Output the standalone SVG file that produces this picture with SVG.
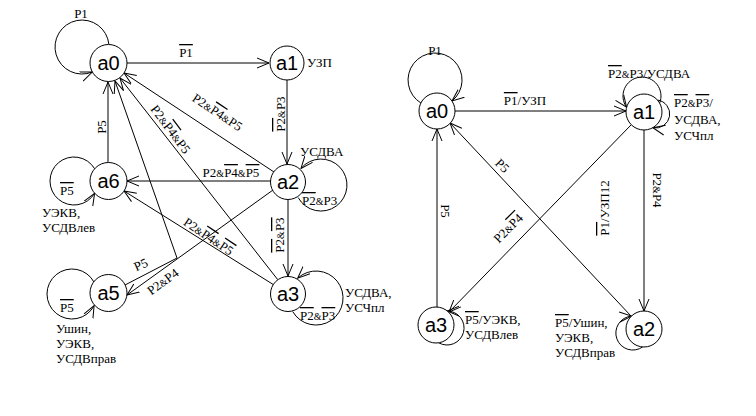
<svg xmlns="http://www.w3.org/2000/svg" width="756" height="416" viewBox="0 0 756 416">
<style>
.c{fill:none;stroke:#000;stroke-width:1;marker-end:url(#ah)}
.n circle{fill:#fff;stroke:#000;stroke-width:1}
.n text{font-family:"Liberation Sans","DejaVu Sans",sans-serif;font-size:20px;text-anchor:middle;fill:#000}
.t{font-family:"Liberation Serif","DejaVu Serif",serif;font-size:13px;fill:#000}
.m{text-anchor:middle}
.o{text-decoration:overline}
.a{font-size:10px}
</style>
<defs>
<marker id="ah" markerWidth="13" markerHeight="12" refX="12" refY="6" orient="auto" markerUnits="userSpaceOnUse">
<path d="M0,1 L12,6 L0,11" fill="none" stroke="#000" stroke-width="1"/>
</marker>
</defs>
<rect width="756" height="416" fill="#fff"/>
<g id="connectors">
<!-- left diagram -->
<path class="c" d="M108.9,44.4 A27,27 0 1 0 92.3,72"/>
<path class="c" d="M127,63 L269,63"/>
<path class="c" d="M287,80 L287,164"/>
<path class="c" d="M274,172 L124,73"/>
<path class="c" d="M271,181 L127,181"/>
<path class="c" d="M288,200 L288,276"/>
<path class="c" d="M298.2,197.6 A26,26 0 1 0 301,168.4"/>
<path class="c" d="M292.7,311.6 A27,27 0 1 0 297.7,278.2"/>
<path class="c" d="M278,280 L120,78"/>
<path class="c" d="M274,285 L124,191"/>
<path class="c" d="M108,162 L108,82"/>
<path class="c" d="M94.6,168.7 A24,24 0 1 0 94.6,193.3"/>
<path class="c" d="M94.1,282.3 A25,25 0 1 0 94.1,305.7"/>
<path class="c" d="M125,285 L177,258 L115,81"/>
<path class="c" d="M273,190 L127,295"/>
<!-- right diagram -->
<path class="c" d="M420.9,103 A27,27 0 1 1 452,101"/>
<path class="c" d="M455,111 L626,111"/>
<path class="c" d="M659.6,103.2 A19,19 0 1 0 626.6,107.2"/>
<path class="c" d="M657.5,100.1 A14,14 0 1 1 652.9,127.7"/>
<path class="c" d="M644,130 L644,311"/>
<path class="c" d="M631,125 L449,312"/>
<path class="c" d="M631,316 L450,123"/>
<path class="c" d="M437,307 L437,129"/>
<path class="c" d="M438.7,342.8 A17,17 0 1 0 447.3,311"/>
<path class="c" d="M642.7,346.9 A17,17 0 1 1 631.5,316.1"/>
</g>
<g id="labels">
<text class="t m" x="81" y="18">P1</text>
<text class="t m" x="186" y="57"><tspan class="o">P1</tspan></text>
<text class="t" x="307" y="67">УЗП</text>
<text class="t m" transform="translate(285,114) rotate(-90)"><tspan class="o">P2</tspan><tspan class="a">&amp;</tspan>P3</text>
<text class="t m" transform="translate(215,116) rotate(33.5)">P2<tspan class="a">&amp;</tspan><tspan class="o">P4</tspan><tspan class="a">&amp;</tspan>P5</text>
<text class="t m" x="231" y="177">P2<tspan class="a">&amp;</tspan><tspan class="o">P4</tspan><tspan class="a">&amp;</tspan><tspan class="o">P5</tspan></text>
<text class="t m" transform="translate(106,127) rotate(-90)">P5</text>
<text class="t m" transform="translate(167,132) rotate(53)">P2<tspan class="a">&amp;</tspan><tspan class="o">P4</tspan><tspan class="a">&amp;</tspan>P5</text>
<text class="t m" transform="translate(206,240) rotate(34)">P2<tspan class="a">&amp;</tspan><tspan class="o">P4</tspan><tspan class="a">&amp;</tspan><tspan class="o">P5</tspan></text>
<text class="t m" transform="translate(142.6,268.6) rotate(-24)">P5</text>
<text class="t m" transform="translate(165.4,285.2) rotate(-36)">P2<tspan class="a">&amp;</tspan>P4</text>
<text class="t m" transform="translate(284,235) rotate(-90)"><tspan class="o">P2</tspan><tspan class="a">&amp;</tspan><tspan class="o">P3</tspan></text>
<text class="t" x="300" y="156">УСДВА</text>
<text class="t" x="302" y="205"><tspan class="o">P2</tspan><tspan class="a">&amp;</tspan>P3</text>
<text class="t" x="300" y="320"><tspan class="o">P2</tspan><tspan class="a">&amp;</tspan><tspan class="o">P3</tspan></text>
<text class="t" x="345" y="297">УСДВА,</text>
<text class="t" x="345" y="312">УСЧпл</text>
<text class="t" x="60" y="195"><tspan class="o">P5</tspan></text>
<text class="t" x="42" y="217">УЭКВ,</text>
<text class="t" x="42" y="232">УСДВлев</text>
<text class="t" x="60" y="312"><tspan class="o">P5</tspan></text>
<text class="t" x="56" y="333">Ушин,</text>
<text class="t" x="56" y="348">УЭКВ,</text>
<text class="t" x="56" y="363">УСДВправ</text>
<text class="t m" x="435" y="55">P1</text>
<text class="t m" x="525" y="105"><tspan class="o">P1</tspan>/УЗП</text>
<text class="t" x="608" y="78"><tspan class="o">P2</tspan><tspan class="a">&amp;</tspan>P3/УСДВА</text>
<text class="t" x="674" y="107"><tspan class="o">P2</tspan><tspan class="a">&amp;</tspan><tspan class="o">P3</tspan>/</text>
<text class="t" x="674" y="124">УСДВА,</text>
<text class="t" x="674" y="140">УСЧпл</text>
<text class="t m" transform="translate(653,190) rotate(90)">P2<tspan class="a">&amp;</tspan>P4</text>
<text class="t m" transform="translate(609,208) rotate(-90)"><tspan class="o">P1</tspan>/УЗП12</text>
<text class="t m" transform="translate(511.3,231.3) rotate(-45)">P2<tspan class="a">&amp;</tspan><tspan class="o">P4</tspan></text>
<text class="t m" transform="translate(499.2,168.8) rotate(45)">P5</text>
<text class="t m" transform="translate(441,211) rotate(90)">P5</text>
<text class="t" x="465" y="324"><tspan class="o">P5</tspan>/УЭКВ,</text>
<text class="t" x="465" y="339">УСДВлев</text>
<text class="t" x="555" y="327"><tspan class="o">P5</tspan>/Ушин,</text>
<text class="t" x="555" y="342">УЭКВ,</text>
<text class="t" x="555" y="357">УСДВправ</text>
</g>
<g id="L_a0" class="n"><circle cx="108.5" cy="63" r="18.5"/><text x="108.5" y="70">a0</text></g>
<g id="L_a1" class="n"><circle cx="287" cy="63" r="17"/><text x="287" y="70">a1</text></g>
<g id="L_a2" class="n"><circle cx="288" cy="182" r="17.5"/><text x="288" y="189">a2</text></g>
<g id="L_a3" class="n"><circle cx="288" cy="294" r="17.5"/><text x="288" y="301">a3</text></g>
<g id="L_a6" class="n"><circle cx="108.5" cy="181" r="18.5"/><text x="108.5" y="188">a6</text></g>
<g id="L_a5" class="n"><circle cx="108.5" cy="293" r="18.5"/><text x="108.5" y="300">a5</text></g>
<g id="R_a0" class="n"><circle cx="437" cy="111" r="18"/><text x="437" y="118">a0</text></g>
<g id="R_a1" class="n"><circle cx="644" cy="112" r="18"/><text x="644" y="119">a1</text></g>
<g id="R_a3" class="n"><circle cx="436" cy="325" r="18"/><text x="436" y="332">a3</text></g>
<g id="R_a2" class="n"><circle cx="644" cy="329" r="18"/><text x="644" y="336">a2</text></g>
</svg>
